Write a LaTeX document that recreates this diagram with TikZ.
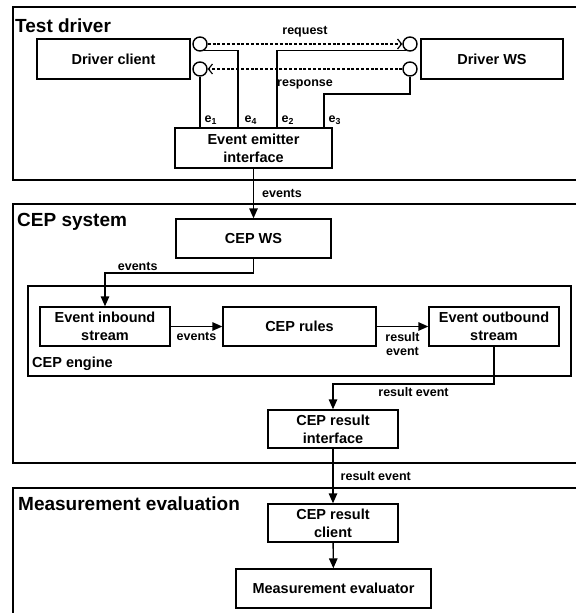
\documentclass[tikz,border=0pt]{standalone}
\usepackage{fontspec}
\setmainfont{Liberation Sans}
\usetikzlibrary{arrows.meta}

\begin{document}
\begin{tikzpicture}[x=1pt, y=-1pt,
        box/.style={draw, line width=1.4pt, align=center, inner sep=0pt, font=\bfseries\fontsize{14.5}{18}\selectfont},
        zone/.style={line width=1.4pt},
        title/.style={anchor=base west, inner sep=0pt, font=\bfseries\fontsize{19}{22}\selectfont},
        subtitle/.style={anchor=base west, inner sep=0pt, font=\bfseries\fontsize{14.5}{18}\selectfont},
        lbl/.style={inner sep=1pt, align=center, font=\bfseries\fontsize{12.5}{14}\selectfont},
        port/.style={circle, draw, line width=1.4pt, minimum size=14pt, inner sep=0pt},
        wire/.style={line width=1.4pt},
        flow/.style={line width=1.4pt, -{Triangle[length=10pt, width=8.5pt]}},
        msg/.style={line width=1.2pt, dash pattern=on 3pt off 1.8pt, -{Straight Barb[length=4pt, width=10pt]}}]
        \useasboundingbox (0,0) rectangle (576,613);

        % Test driver
        \draw[zone] (576,7) -- (13,7) -- (13,180) -- (576,180);
        \node[title] (tdrv) at (15,32) {Test driver};
        \node[box, minimum width=153pt, minimum height=40pt] (dc) at (113.5,59) {Driver client};
        \node[box, minimum width=142pt, minimum height=40pt] (dws) at (492,59) {Driver WS};
        \node[box, minimum width=157pt, minimum height=40pt] (ee) at (253.5,148) {Event emitter\\interface};

        \foreach \n/\x/\y in {lc1/200/44, lc2/200/69, rc1/410/44, rc2/410/69}
            \node[port] (\n) at (\x,\y) {};

        \draw[msg] (lc1) -- node[lbl, above=5pt] (lreq) {request} (rc1);
        \draw[msg] (rc2) -- node[lbl, below=9pt] (lresp) {response} (lc2);

        % event taps
        \coordinate (p1) at (lc2.south |- ee.north);
        \coordinate (p4) at ([xshift=-15.5pt]ee.north);
        \coordinate (p2) at ([xshift=23.5pt]ee.north);
        \coordinate (p3) at ([xshift=70.5pt]ee.north);
        \coordinate (k3) at (324,94);
        \draw[wire] (lc2) -- (p1) node[lbl, anchor=south west, xshift=3pt, yshift=1pt] (e1) {e\textsubscript{1}};
        \draw[wire] (lc1.-60) -| (p4) node[lbl, anchor=south west, xshift=5pt, yshift=1pt] (e4) {e\textsubscript{4}};
        \draw[wire] (rc1.-120) -| (p2) node[lbl, anchor=south west, xshift=3pt, yshift=1pt] (e2) {e\textsubscript{2}};
        \draw[wire] (rc2) |- (k3) -- (p3) node[lbl, anchor=south west, xshift=3pt, yshift=1pt] (e3) {e\textsubscript{3}};

        % CEP system
        \draw[zone] (576,204) -- (13,204) -- (13,463) -- (576,463);
        \node[title] (tcep) at (17,226) {CEP system};
        \node[box, minimum width=155pt, minimum height=39pt] (cws) at (253.5,238.5) {CEP WS};
        \draw[flow] (ee) -- node[lbl, right=7pt] (lev1) {events} (cws);

        % CEP engine
        \draw[zone] (28,286) rectangle (571,376);
        \node[subtitle] (teng) at (32,367) {CEP engine};
        \node[box, minimum width=130pt, minimum height=39pt] (inb) at (105,326.5) {Event inbound\\stream};
        \node[box, minimum width=153pt, minimum height=39pt] (rules) at (299.5,326.5) {CEP rules};
        \node[box, minimum width=130pt, minimum height=39pt] (outb) at (494,326.5) {Event outbound\\stream};

        \coordinate (k1) at (105,273);
        \draw[flow] (cws) |- node[lbl, pos=0.89, above=1pt] (lev2) {events} (k1) -- (inb);
        \draw[flow] (inb) -- node[lbl, below=4pt] (lev3) {events} (rules);
        \draw[flow] (rules) -- node[lbl, below=4pt] (lre1) {result\\event} (outb);

        \node[box, minimum width=130pt, minimum height=38pt] (rif) at (333,429) {CEP result\\interface};
        \coordinate (k2) at (333,384);
        \draw[flow] (outb) |- node[lbl, pos=0.75, below=2pt] (lre2) {result event} (k2) -- (rif);

        % Measurement evaluation
        \draw[zone] (576,488) -- (13,488) -- (13,613);
        \node[title] (tmev) at (18,510) {Measurement evaluation};
        \node[box, minimum width=130pt, minimum height=38pt] (rcl) at (333,523) {CEP result\\client};
        \node[box, minimum width=195pt, minimum height=39pt] (mev) at (333.5,588.5) {Measurement evaluator};
        \draw[flow] (rif) -- node[lbl, right=6pt] (lre3) {result event} (rcl);
        \draw[flow] (rcl) -- (mev);
    \end{tikzpicture}
\end{document}
